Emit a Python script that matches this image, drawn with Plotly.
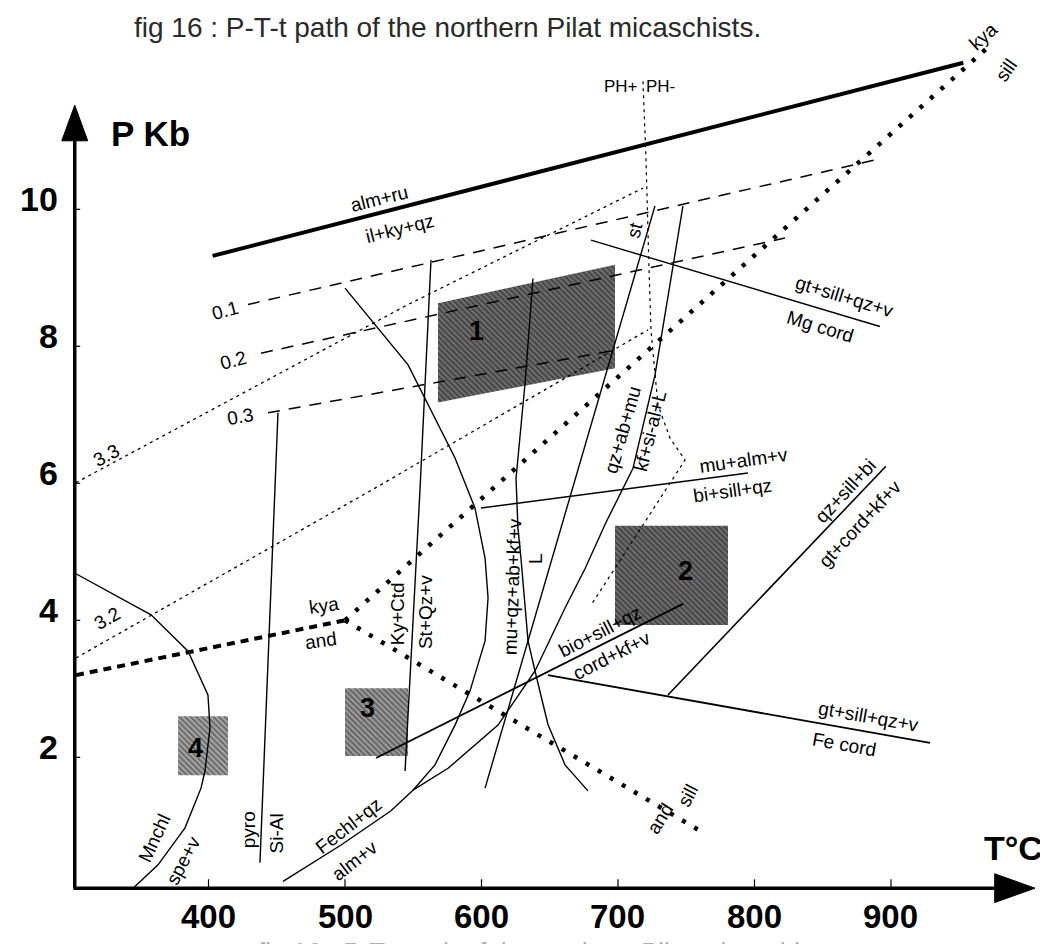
import plotly.graph_objects as go

# ---------------- axes ----------------
T_TICKS = [400, 500, 600, 700, 800, 900]
P_TICKS = [2, 4, 6, 8, 10]
T_RANGE = [253.1, 1020.9]
P_RANGE = [-0.842, 12.939]
T_AXIS0, P_AXIS0 = 302.0, 0.09

# ---------------- reaction curves (T in degC, P in kb) ----------------
ALM_RU_T = [403, 953]
ALM_RU_P = [9.32, 12.14]

PH_T = [718.3, 720.5, 722.7, 724.2, 729.3, 738.1, 749.1, 707.3, 680.2]
PH_P = [11.87, 10.75, 9.14, 8.23, 7.14, 6.66, 6.34, 5.05, 4.22]

ISO33_T = [302.9, 546.2, 718.3]
ISO33_P = [6.01, 8.61, 10.31]
ISO32_T = [302.9, 522.0, 678.0, 722.0]
ISO32_P = [3.45, 5.93, 7.73, 8.24]

X01_T = [428.9, 888.3]
X01_P = [8.61, 10.72]
X02_T = [438.5, 822.3]
X02_P = [7.90, 9.58]
X03_T = [443.6, 700.0]
X03_P = [7.03, 7.95]

KYA_AND_T = [302.9, 500.0]
KYA_AND_P = [3.20, 4.00]
KYA_SILL_T = [500.0, 974.7]
KYA_SILL_P = [4.00, 12.43]
AND_SILL_T = [500.0, 762.3]
AND_SILL_P = [4.00, 0.90]

PYRO_T = [450.9, 437.7]
PYRO_P = [7.03, 0.46]

STQZ_T = [563.0, 555.0, 544.0]
STQZ_P = [9.26, 5.93, 1.80]

L_T = [637.7, 631.9, 625.3, 626.7, 628.9, 634.1, 639.2, 648.7, 661.2, 678.0]
L_P = [8.99, 7.46, 6.07, 5.35, 4.91, 3.70, 3.26, 2.48, 1.89, 1.51]

QZAB_T = [727.1, 602.6]
QZAB_P = [10.05, 1.55]

KFSI_T = [747.6, 727.1, 711.0, 691.0, 676.0, 661.2, 639.2, 612.1, 575.5, 549.8]
KFSI_P = [10.05, 7.58, 6.22, 5.42, 4.76, 4.18, 3.26, 2.47, 1.84, 1.52]

CTD_T = [500.0, 546.2, 580.6, 595.2, 602.6, 604.8, 602.6, 591.6, 580.6, 565.9, 549.8]
CTD_P = [8.85, 7.73, 6.37, 5.64, 4.91, 4.33, 3.70, 2.97, 2.47, 1.89, 1.52]

FECHL_T = [454.6, 497.1, 533.7, 549.8]
FECHL_P = [0.19, 0.72, 1.22, 1.52]

BIO_T = [522.7, 747.6]
BIO_P = [1.99, 4.24]

FECORD_T = [648.7, 928.6]
FECORD_P = [3.20, 2.21]

QZSILLBI_T = [736.6, 896.3]
QZSILLBI_P = [2.91, 6.25]

MUALM_T = [599.6, 795.2]
MUALM_P = [5.64, 6.15]

MGCORD_T = [680.2, 891.9]
MGCORD_P = [9.55, 8.29]

MNCHL_T = [302.9, 357.9, 385.0, 399.6, 401.1, 397.4, 394.5, 382.8, 363.0, 344.7]
MNCHL_P = [4.68, 4.08, 3.55, 2.91, 2.43, 1.80, 1.55, 0.97, 0.43, 0.09]

# ---------------- P-T boxes ----------------
BOX1_T = [568.1, 697.8, 697.8, 568.1]
BOX1_P = [8.63, 9.19, 7.68, 7.18]
BOX2_T = [697.8, 780.6, 780.6, 697.8]
BOX2_P = [5.38, 5.38, 3.93, 3.93]
BOX3_T = [500.0, 546.2, 546.2, 500.0]
BOX3_P = [3.01, 3.01, 2.02, 2.02]
BOX4_T = [377.7, 414.3, 414.3, 377.7]
BOX4_P = [2.60, 2.60, 1.74, 1.74]
BOX_NAMES = ["1", "2", "3", "4"]
BOX_LABEL_T = [596.0, 749.1, 516.8, 390.1]
BOX_LABEL_P = [8.23, 4.72, 2.72, 2.14]

FONT = "Liberation Sans, Arial, Helvetica, sans-serif"

fig = go.Figure()


def line(t, p, width=1.4, dash="solid", color="black"):
    fig.add_trace(go.Scatter(x=t, y=p, mode="lines",
                             line=dict(color=color, width=width, dash=dash),
                             hoverinfo="skip", showlegend=False))


# boxes first (beneath lines)
box_styles = [("#111", "#6e6e6e"), ("#111", "#6e6e6e"), ("#222", "#9a9a9a"), ("#222", "#a5a5a5")]
for (bt, bp), (fg, bg) in zip([(BOX1_T, BOX1_P), (BOX2_T, BOX2_P), (BOX3_T, BOX3_P), (BOX4_T, BOX4_P)], box_styles):
    fig.add_trace(go.Scatter(x=bt + bt[:1], y=bp + bp[:1], mode="lines", fill="toself",
                             line=dict(width=0, color=bg), fillcolor=bg,
                             fillpattern=dict(shape="\\", size=4, solidity=0.45, fgcolor=fg, bgcolor=bg),
                             hoverinfo="skip", showlegend=False))

line(ALM_RU_T, ALM_RU_P, width=4)
line(PH_T, PH_P, width=1.2, dash="3px,4px")
line(ISO33_T, ISO33_P, width=1.3, dash="3px,4px")
line(ISO32_T, ISO32_P, width=1.3, dash="3px,4px")
line(X01_T, X01_P, width=1.5, dash="12px,9px")
line(X02_T, X02_P, width=1.5, dash="12px,9px")
line(X03_T, X03_P, width=1.5, dash="12px,9px")
line(KYA_AND_T, KYA_AND_P, width=4, dash="8px,6px")
line(KYA_SILL_T, KYA_SILL_P, width=4.5, dash="4px,10px")
line(AND_SILL_T, AND_SILL_P, width=4.5, dash="4px,10px")
line(PYRO_T, PYRO_P)
line(STQZ_T, STQZ_P)
line(L_T, L_P)
line(QZAB_T, QZAB_P)
line(KFSI_T, KFSI_P)
line(CTD_T, CTD_P)
line(FECHL_T, FECHL_P)
line(BIO_T, BIO_P, width=1.8)
line(FECORD_T, FECORD_P, width=1.8)
line(QZSILLBI_T, QZSILLBI_P, width=1.6)
line(MUALM_T, MUALM_P)
line(MGCORD_T, MGCORD_P)
line(MNCHL_T, MNCHL_P)

# ---------------- axes drawn as arrows ----------------
shapes = []
T_HEAD_BASE, T_HEAD_TIP, P_HEAD_HALF = 976.0, 1005.5, 0.21
P_HEAD_BASE, P_HEAD_TIP, T_HEAD_HALF = 11.0, 11.52, 9.5
shapes.append(dict(type="line", xref="x", yref="y", x0=T_AXIS0 - 1, y0=P_AXIS0, x1=T_HEAD_BASE, y1=P_AXIS0,
                   line=dict(color="black", width=3.5)))
shapes.append(dict(type="line", xref="x", yref="y", x0=T_AXIS0, y0=P_AXIS0, x1=T_AXIS0, y1=P_HEAD_BASE,
                   line=dict(color="black", width=3.5)))
shapes.append(dict(type="path", xref="x", yref="y",
                   path=f"M {T_HEAD_BASE},{P_AXIS0 - P_HEAD_HALF} L {T_HEAD_TIP},{P_AXIS0} L {T_HEAD_BASE},{P_AXIS0 + P_HEAD_HALF} Z",
                   fillcolor="black", line=dict(color="black", width=1)))
shapes.append(dict(type="path", xref="x", yref="y",
                   path=f"M {T_AXIS0 - T_HEAD_HALF},{P_HEAD_BASE} L {T_AXIS0},{P_HEAD_TIP} L {T_AXIS0 + T_HEAD_HALF},{P_HEAD_BASE} Z",
                   fillcolor="black", line=dict(color="black", width=1)))
for t in T_TICKS:
    shapes.append(dict(type="line", xref="x", yref="y", x0=t, y0=P_AXIS0, x1=t, y1=P_AXIS0 + 0.13,
                       line=dict(color="black", width=1.2)))
for p in P_TICKS:
    shapes.append(dict(type="line", xref="x", yref="y", x0=T_AXIS0, y0=p, x1=T_AXIS0 + 4, y1=p,
                       line=dict(color="black", width=1.2)))

C = dict(xanchor="center", yanchor="middle", showarrow=False)
ann = []
for t in T_TICKS:
    ann.append(dict(x=t, y=-0.32, xref="x", yref="y", text=f"<b>{t}</b>", **C,
                    font=dict(family=FONT, size=33, color="black")))
for p in P_TICKS:
    ann.append(dict(x=291.5, y=p + 0.15, xref="x", yref="y", text=f"<b>{p}</b>", showarrow=False,
                    xanchor="right", yanchor="middle", font=dict(family=FONT, size=34, color="black")))
ann.append(dict(x=142 / 1048, y=1 - 125 / 944, xref="paper", yref="paper", text="<b>P Kb</b>",
                **C, font=dict(family=FONT, size=35, color="black")))
ann.append(dict(x=1005 / 1048, y=1 - 840 / 944, xref="paper", yref="paper", text="<b>T°C</b>",
                **C, font=dict(family=FONT, size=34, color="black")))
ann.append(dict(x=439 / 1048, y=1 - 20 / 944, xref="paper", yref="paper",
                text="fig 16 : P-T-t path of the northern Pilat micaschists.",
                **C, font=dict(family=FONT, size=28, color="#2a2a2a")))
ann.append(dict(x=541 / 1048, y=1 - 944 / 944, xref="paper", yref="paper",
                text="fig 16 : P-T-t path of the northern Pilat micaschists.",
                **C, font=dict(family=FONT, size=26, color="#b0b0b0")))

# reaction labels: text, T, P, angle, size
LABELS = [
    ("alm+ru", 525.6, 10.16, -14, 19),
    ("il+ky+qz", 540.3, 9.72, -14, 19),
    ("0.1", 412.1, 8.52, -15, 19),
    ("0.2", 417.9, 7.80, -15, 19),
    ("0.3", 423.1, 6.98, -10, 19),
    ("3.3", 324.9, 6.41, -28, 19),
    ("3.2", 325.6, 4.03, -30, 19),
    ("PH+", 702.2, 11.80, 0, 17),
    ("PH-", 731.5, 11.80, 0, 17),
    ("kya", 967.4, 12.53, -42, 19),
    ("sill", 984.2, 12.03, -55, 19),
    ("st", 712.5, 9.70, -75, 19),
    ("gt+sill+qz+v", 865.6, 8.73, 17, 19),
    ("Mg cord", 848.0, 8.29, 17, 19),
    ("qz+ab+mu", 703.7, 6.78, -74, 19),
    ("kf+si-al+L", 723.4, 6.76, -76, 19),
    ("mu+alm+v", 791.6, 6.34, -8, 19),
    ("bi+sill+qz", 784.2, 5.90, -8, 19),
    ("qz+sill+bi", 867.0, 5.89, -47, 19),
    ("gt+cord+kf+v", 877.3, 5.42, -47, 19),
    ("mu+qz+ab+kf+v", 622.3, 4.50, -88, 19),
    ("L", 639.9, 4.91, -90, 19),
    ("Ky+Ctd", 538.1, 4.09, -90, 19),
    ("St+Qz+v", 558.6, 4.12, -90, 19),
    ("kya", 484.6, 4.22, -8, 19),
    ("and", 482.4, 3.70, -8, 19),
    ("bio+sill+qz", 686.8, 3.84, -27, 19),
    ("cord+kf+v", 695.6, 3.48, -27, 19),
    ("gt+sill+qz+v", 883.2, 2.60, 10, 19),
    ("Fe cord", 865.6, 2.18, 10, 19),
    ("sill", 751.3, 1.44, -62, 19),
    ("and", 730.8, 1.11, -58, 19),
    ("Mnchl", 360.1, 0.82, -65, 19),
    ("spe+v", 381.3, 0.50, -62, 19),
    ("pyro", 428.9, 0.95, -90, 19),
    ("Si-Al", 449.5, 0.89, -90, 19),
    ("Fechl+qz", 502.9, 1.00, -38, 19),
    ("alm+v", 507.3, 0.49, -38, 19),
]
for txt, t, p, ang, sz in LABELS:
    ann.append(dict(x=t, y=p, xref="x", yref="y", text=txt, textangle=ang, **C,
                    font=dict(family=FONT, size=sz, color="black")))
for name, t, p in zip(BOX_NAMES, BOX_LABEL_T, BOX_LABEL_P):
    ann.append(dict(x=t, y=p, xref="x", yref="y", text=f"<b>{name}</b>", **C,
                    font=dict(family=FONT, size=27, color="black")))

fig.update_layout(
    width=1048, height=944, autosize=False,
    margin=dict(l=0, r=0, t=0, b=0),
    paper_bgcolor="white", plot_bgcolor="white",
    xaxis=dict(range=T_RANGE, visible=False, fixedrange=True),
    yaxis=dict(range=P_RANGE, visible=False, fixedrange=True),
    shapes=shapes, annotations=ann, showlegend=False,
)
fig.write_html("out.html")
